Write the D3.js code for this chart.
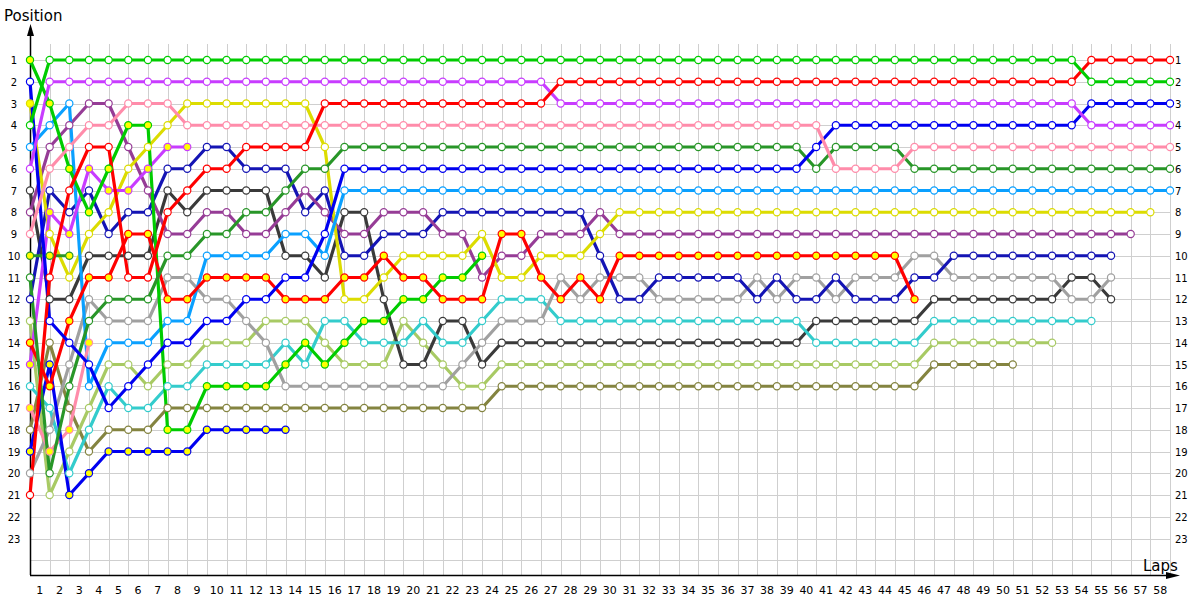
<!DOCTYPE html>
<html><head><meta charset="utf-8">
<script src="https://cdn.jsdelivr.net/npm/d3@7"></script>
<style>body{margin:0;background:#fff}svg{display:block}text{font-family:"DejaVu Sans",Verdana,sans-serif}</style>
</head><body><svg id="c" width="1200" height="600"></svg>
<script>
const lapTicks = d3.range(1, 59);
const positionTicks = d3.range(1, 24);

// positions per lap (index = lap, 0 = grid)
const greenA = [4,1,1,1,1,1,1,1,1,1, 1,1,1,1,1,1,1,1,1,1, 1,1,1,1,1,1,1,1,1,1, 1,1,1,1,1,1,1,1,1,1, 1,1,1,1,1,1,1,1,1,1, 1,1,1,1,2,2,2,2,2];
const redA = [21,11,7,5,5,11,11,8,7,6, 6,5,5,5,5,3,3,3,3,3, 3,3,3,3,3,3,3,2,2,2, 2,2,2,2,2,2,2,2,2,2, 2,2,2,2,2,2,2,2,2,2, 2,2,2,2,1,1,1,1,1];
const magentaA = [6,2,2,2,2,2,2,2,2,2, 2,2,2,2,2,2,2,2,2,2, 2,2,2,2,2,2,2,3,3,3, 3,3,3,3,3,3,3,3,3,3, 3,3,3,3,3,3,3,3,3,3, 3,3,3,3,4,4,4,4,4];
const pinkA = [9,6,5,4,4,3,3,3,4,4, 4,4,4,4,4,4,4,4,4,4, 4,4,4,4,4,4,4,4,4,4, 4,4,4,4,4,4,4,4,4,4, 4,6,6,6,6,5,5,5,5,5, 5,5,5,5,5,5,5,5,5];
const dkgreenA = [11,20,16,13,12,12,12,10,10,9, 9,8,8,7,6,6,5,5,5,5, 5,5,5,5,5,5,5,5,5,5, 5,5,5,5,5,5,5,5,5,5, 6,5,5,5,5,6,6,6,6,6, 6,6,6,6,6,6,6,6,6];
const blueA = [2,13,14,15,17,16,15,14,14,13, 13,12,12,11,11,9,6,6,6,6, 6,6,6,6,6,6,6,6,6,6, 6,6,6,6,6,6,6,6,6,6, 5,4,4,4,4,4,4,4,4,4, 4,4,4,4,3,3,3,3,3];
const ltblueA = [5,4,3,16,14,14,14,13,13,10, 10,10,10,9,9,10,7,7,7,7, 7,7,7,7,7,7,7,7,7,7, 7,7,7,7,7,7,7,7,7,7, 7,7,7,7,7,7,7,7,7,7, 7,7,7,7,7,7,7,7,7];
const yellowA = [3,9,11,9,8,6,5,4,3,3, 3,3,3,3,3,5,12,12,11,10, 10,10,10,9,11,11,10,10,10,9, 8,8,8,8,8,8,8,8,8,8, 8,8,8,8,8,8,8,8,8,8, 8,8,8,8,8,8,8,8];
const purpleA = [8,5,4,3,3,5,7,9,9,8, 8,9,9,8,7,8,9,9,8,8, 8,9,9,11,10,10,9,9,9,8, 9,9,9,9,9,9,9,9,9,9, 9,9,9,9,9,9,9,9,9,9, 9,9,9,9,9,9,9];
const navyA = [12,7,8,7,9,8,8,6,6,5, 5,6,6,6,8,7,10,10,9,9, 9,8,8,8,8,8,8,8,8,10, 12,12,11,11,11,11,11,12,11,12, 12,11,12,12,12,11,11,10,10,10, 10,10,10,10,10,10];
const redB = [14,16,13,11,11,9,9,12,12,11, 11,11,11,12,12,12,11,11,10,11, 11,12,12,12,9,9,11,12,11,12, 10,10,10,10,10,10,10,10,10,10, 10,10,10,10,10,12];
const greyA = [20,18,15,12,13,13,13,11,11,12, 12,13,14,16,16,16,16,16,16,16, 16,16,15,14,13,13,13,11,12,11, 11,11,12,12,12,12,12,11,12,11, 11,12,11,11,11,10,10,11,11,11, 11,11,11,12,12,11];
const cyanA = [16,17,20,18,16,17,17,16,16,15, 15,15,15,14,15,13,13,14,14,14, 13,14,14,13,12,12,12,13,13,13, 13,13,13,13,13,13,13,13,13,13, 14,14,14,14,14,14,13,13,13,13, 13,13,13,13,13];
const dkgreyA = [7,12,12,10,10,10,10,7,8,7, 7,7,7,10,10,11,8,8,12,15, 15,13,13,15,14,14,14,14,14,14, 14,14,14,14,14,14,14,14,14,14, 13,13,13,13,13,13,12,12,12,12, 12,12,12,11,11,12];
const ltoliveA = [13,21,19,17,15,15,16,15,15,14, 14,14,13,13,13,14,15,15,15,13, 14,15,16,16,15,15,15,15,15,15, 15,15,15,15,15,15,15,15,15,15, 15,15,15,15,15,15,14,14,14,14, 14,14,14];
const oliveA = [18,14,17,19,18,18,18,17,17,17, 17,17,17,17,17,17,17,17,17,17, 17,17,17,17,16,16,16,16,16,16, 16,16,16,16,16,16,16,16,16,16, 16,16,16,16,16,16,15,15,15,15, 15];
const greenB = [1,3,6,8,6,4,4,18,18,16, 16,16,16,15,14,15,14,13,13,12, 12,11,11,10];
const blueB = [19,15,21,20,19,19,19,19,19,18, 18,18,18,18];
const magentaB = [15,8,9,6,7,7,6,5,5];
const pinkB = [17,19,18,14];
const dkgreenB = [10,10,10];

const drivers = [
  {pos: oliveA,   color: "#848440", fill: "#fff"},
  {pos: ltoliveA, color: "#a8ca64", fill: "#fff"},
  {pos: dkgreyA,  color: "#3a3a3a", fill: "#fff"},
  {pos: cyanA,    color: "#33cccc", fill: "#fff"},
  {pos: greyA,    color: "#a0a0a0", fill: "#fff"},
  {pos: navyA,    color: "#1414b4", fill: "#fff"},
  {pos: purpleA,  color: "#963c96", fill: "#fff"},
  {pos: yellowA,  color: "#dcdc00", fill: "#fff", firstFill: "#ffff00"},
  {pos: ltblueA,  color: "#0aa0ff", fill: "#fff"},
  {pos: dkgreenB, color: "#289628", fill: "#ffff00"},
  {pos: pinkB,    color: "#ff8caa", fill: "#ffff00"},
  {pos: magentaB, color: "#c83cff", fill: "#ffff00"},
  {pos: blueB,    color: "#0000f0", fill: "#ffff00"},
  {pos: greenB,   color: "#00cc00", fill: "#ffff00"},
  {pos: redB,     color: "#ff0000", fill: "#ffff00"},
  {pos: dkgreenA, color: "#289628", fill: "#fff"},
  {pos: blueA,    color: "#0000f0", fill: "#fff"},
  {pos: pinkA,    color: "#ff8caa", fill: "#fff"},
  {pos: magentaA, color: "#c83cff", fill: "#fff"},
  {pos: redA,     color: "#ff0000", fill: "#fff"},
  {pos: greenA,   color: "#00cc00", fill: "#fff"}
];

const svg = d3.select("#c");
const x = d3.scaleLinear().domain([0, 58]).range([30, 1170]);
const y = d3.scaleLinear().domain([1, 23]).range([60, 538.5]);
const axisY = 575;

// grid
const grid = svg.append("g").attr("stroke", "#cfcfcf").attr("stroke-width", 1);
grid.selectAll("line.v").data(lapTicks).join("line")
  .attr("x1", d => Math.round(x(d)) + 0.5).attr("x2", d => Math.round(x(d)) + 0.5)
  .attr("y1", 44).attr("y2", axisY);
grid.selectAll("line.h").data(positionTicks.concat([24])).join("line")
  .attr("x1", 30).attr("x2", x(58))
  .attr("y1", d => Math.round(y(d)) + 0.5).attr("y2", d => Math.round(y(d)) + 0.5);

// axes
svg.append("line").attr("x1", 30.5).attr("x2", 30.5).attr("y1", 28).attr("y2", axisY).attr("stroke", "#000").attr("stroke-width", 1.5);
svg.append("line").attr("x1", 30).attr("x2", 1172).attr("y1", axisY + 0.5).attr("y2", axisY + 0.5).attr("stroke", "#000").attr("stroke-width", 1.5);
svg.append("path").attr("d", `M1180,${axisY+0.5} L1166,${axisY-3} L1166,${axisY+4} Z`).attr("fill", "#000");
svg.append("path").attr("d", `M30.5,24 L27,36 L34,36 Z`).attr("fill", "#000");

svg.append("text").attr("x", 4).attr("y", 21).attr("font-size", 15).text("Position");
svg.append("text").attr("x", 1143).attr("y", 571).attr("font-size", 15).text("Laps");

// tick labels
svg.append("g").selectAll("text").data(lapTicks).join("text")
  .attr("x", d => x(d - 0.5)).attr("y", 594).attr("text-anchor", "middle").attr("font-size", 11)
  .text(d => d);
svg.append("g").selectAll("text").data(positionTicks).join("text")
  .attr("x", 14).attr("y", d => y(d) + 4).attr("text-anchor", "middle").attr("font-size", 10)
  .text(d => d);
svg.append("g").selectAll("text").data(positionTicks).join("text")
  .attr("x", 1175).attr("y", d => y(d) + 4).attr("text-anchor", "start").attr("font-size", 10)
  .text(d => d);

// lines
const line = d3.line().x((d, i) => x(i)).y(d => y(d));
svg.append("g").selectAll("path").data(drivers).join("path")
  .attr("d", d => line(d.pos)).attr("fill", "none")
  .attr("stroke", d => d.color).attr("stroke-width", 3.2).attr("stroke-linejoin", "round");

// markers
drivers.forEach(dr => {
  svg.append("g").selectAll("circle").data(dr.pos.map((p, i) => ({p, i}))).join("circle")
    .attr("cx", d => x(d.i)).attr("cy", d => y(d.p)).attr("r", 3.6)
    .attr("fill", d => (d.i === 0 && dr.firstFill) ? dr.firstFill : dr.fill)
    .attr("stroke", dr.color).attr("stroke-width", 1.2);
});
</script></body></html>
